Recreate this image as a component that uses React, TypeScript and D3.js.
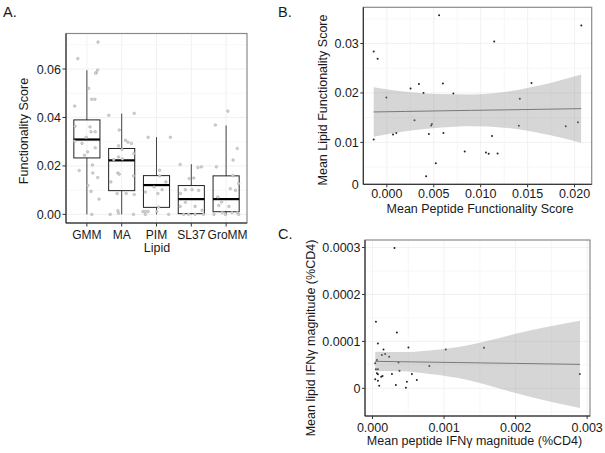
import React from 'react';
import * as d3 from 'd3';

// ---------- Panel A data ----------
const categories = ['GMM', 'MA', 'PIM', 'SL37', 'GroMM'];
const boxLow = [0, 0, 0, 0, 0];
const boxQ1 = [0.0233, 0.0098, 0.0029, 0.0003, 0.0011];
const boxMed = [0.0309, 0.0223, 0.0121, 0.0063, 0.0063];
const boxQ3 = [0.039, 0.0272, 0.016, 0.0119, 0.0159];
const boxHigh = [0.0595, 0.0416, 0.0319, 0.0207, 0.0367];

const gmmScores = [0.0643, 0.0711, 0.0596, 0.0585, 0.0583, 0.052, 0.0475, 0.0475, 0.0447, 0.0361, 0.0364, 0.0341, 0.0341, 0.0318, 0.0302, 0.0293, 0.0275, 0.0258, 0.0244, 0.0181, 0.0204, 0.0171, 0.0152, 0.0119, 0.0095, 0.0063, 0];
const gmmJitter = [-0.26, 0.32, 0.31, 0.27, 0.25, 0.05, 0.14, 0.23, -0.35, 0.09, -0.34, 0.12, 0.24, -0.02, -0.35, -0.14, 0.24, 0.02, -0.07, -0.22, 0.16, 0.17, 0.31, 0.03, 0.12, 0.35, 0.14];
const maScores = [0.0409, 0.0417, 0.0348, 0.0306, 0.0298, 0.0293, 0.0283, 0.0268, 0.0251, 0.0237, 0.0229, 0.0226, 0.0171, 0.0166, 0.0134, 0.0159, 0.0086, 0.0086, 0.0082, 0.0015, 0.0005, 0, 0];
const maJitter = [-0.37, 0.36, -0.07, 0.11, 0.18, 0.28, -0.09, 0.01, 0.35, -0.09, 0.02, -0.23, -0.11, -0.07, -0.31, 0.34, -0.13, 0.13, 0.36, -0.11, -0.09, -0.33, 0.34];
const pimScores = [0.0318, 0.0318, 0.0182, 0.0159, 0.0092, 0.0102, 0.0086, 0.0134, 0.0113, 0.0012, 0.0012, 0.0012, 0.0012, 0, 0, 0.003];
const pimJitter = [-0.24, 0.4, 0.09, 0.09, -0.32, 0.16, 0.04, 0.27, -0.07, -0.39, -0.32, -0.24, 0.01, 0.35, -0.32, 0.06];
const sl37Scores = [0.0206, 0.0193, 0.0196, 0.0148, 0.015, 0.0102, 0.0102, 0.0099, 0.0086, 0.005, 0.0033, 0.0033, 0.0017, 0, 0, 0, 0];
const sl37Jitter = [-0.32, 0.19, 0.29, -0.06, 0.07, -0.17, 0.02, 0.21, -0.31, -0.17, -0.32, 0.11, 0.31, -0.22, -0.08, 0.11, 0.35];
const grommScores = [0.0426, 0.0369, 0.0224, 0.0272, 0.0196, 0.016, 0.0127, 0.0106, 0.0099, 0.0072, 0.0051, 0.0037, 0.0033, 0.0008, 0.0008, 0.0008, 0, 0, 0];
const grommJitter = [0.05, -0.31, 0.2, 0.32, -0.28, 0.19, 0.36, 0.12, 0.27, -0.24, -0.13, -0.21, 0.08, -0.11, 0.17, 0.32, -0.35, -0.02, 0.36];
const aTicks = [0, 0.02, 0.04, 0.06];

// ---------- Panel B data ----------
const bPeptide = [-0.0014, -0.00098, 0.00557, -0.00005, 0.00253, 0.00342, 0.00391, 0.00597, 0.00709, 0.00295, 0.0048, 0.00472, -0.0014, 0.00066, 0.00101, 0.00448, 0.00603, 0.0112, 0.0083, 0.01056, 0.01085, 0.0118, 0.00522, 0.00419, 0.02072, 0.01144, 0.01541, 0.01417, 0.01407, 0.01906, 0.02036];
const bLipid = [0.0284, 0.0269, 0.0357, 0.0191, 0.0209, 0.0218, 0.02, 0.0219, 0.0199, 0.01446, 0.01374, 0.0134, 0.01057, 0.01158, 0.01192, 0.01172, 0.01192, 0.01131, 0.00814, 0.00794, 0.00768, 0.00774, 0.00578, 0.00315, 0.03366, 0.03042, 0.02202, 0.01885, 0.01339, 0.01325, 0.01406];
const bFitX = [-0.0014, 0.002, 0.0055, 0.009, 0.0125, 0.0165, 0.0207];
const bFitY = [0.01616, 0.01626, 0.01637, 0.01648, 0.01658, 0.0167, 0.01683];
const bFitLow = [0.01116, 0.01226, 0.01297, 0.01328, 0.01298, 0.0118, 0.00993];
const bFitHigh = [0.02116, 0.02026, 0.01977, 0.01968, 0.02018, 0.0216, 0.02373];
const bXTicks = [0, 0.005, 0.01, 0.015, 0.02];
const bYTicks = [0.01, 0.02, 0.03];

// ---------- Panel C data ----------
const cPeptide = [0.000307, 0.0000474, 0.00034, 0.0000753, 0.000153, 0.000502, 0.001024, 0.000131, 0.000177, 0.000233, 0.0000614, 0.000363, 0.000795, 0.0000377, 0.0000474, 0.0000753, 0.000377, 0.0000614, 0.0000753, 0.000139, 0.000121, 0.000271, 0.00055, 0.0000377, 0.0000753, 0.000619, 0.00048, 0.0000934, 0.000326, 0.000466, 0.001558, 0.002897];
const cLipid = [0.000299, 0.0001417, 0.0001191, 0.0000957, 0.000083, 0.0000872, 0.000083, 0.0000709, 0.000073, 0.0000672, 0.0000602, 0.0000553, 0.0000474, 0.0000532, 0.0000404, 0.0000404, 0.0000374, 0.0000319, 0.0000298, 0.0000262, 0.0000247, 0.0000304, 0.0000304, 0.0000191, 0.0000162, 0.0000177, 0.000014, 0.0000055, 0.000007, 0.0000013, 0.0000864, 0.0000304];
const cFitX = [0.0000377, 0.0004, 0.0008, 0.0012, 0.0016, 0.002, 0.0024, 0.0029];
const cFitY = [0.0000575, 0.0000567, 0.0000558, 0.0000549, 0.000054, 0.0000531, 0.0000522, 0.0000511];
const cFitLow = [0.000037, 0.0000362, 0.0000308, 0.0000219, 0.000007, -0.0000099, -0.0000252, -0.0000419];
const cFitHigh = [0.000078, 0.0000772, 0.0000808, 0.0000879, 0.000101, 0.0001161, 0.0001296, 0.0001441];
const cXTicks = [0, 0.001, 0.002, 0.003];
const cYTicks = [0, 0.0001, 0.0002, 0.0003];

const FONT = '"Liberation Sans", Arial, Helvetica, sans-serif';
const FS = 12.5;

function expand(lo: number, hi: number): [number, number] {
  const d = (hi - lo) * 0.05;
  return [lo - d, hi + d];
}

function Frame({ x0, x1, y0, y1 }: { x0: number; x1: number; y0: number; y1: number }) {
  return (
    <g>
      <rect x={x0} y={y1} width={x1 - x0} height={y0 - y1} fill="none" stroke="#8a8a8a" strokeWidth={1.2} />
      <line x1={x0} x2={x0} y1={y1} y2={y0} stroke="#222" strokeWidth={1} />
      <line x1={x0} x2={x1} y1={y0} y2={y0} stroke="#222" strokeWidth={1} />
    </g>
  );
}

function GridLines({ xs, ys, x0, x1, y0, y1, color }: { xs: number[]; ys: number[]; x0: number; x1: number; y0: number; y1: number; color: string }) {
  return (
    <g stroke={color} strokeWidth={0.8}>
      {xs.map((v, i) => <line key={'gx' + i} x1={v} x2={v} y1={y1} y2={y0} />)}
      {ys.map((v, i) => <line key={'gy' + i} x1={x0} x2={x1} y1={v} y2={v} />)}
    </g>
  );
}

function mids(ticks: number[], scale: d3.ScaleLinear<number, number>) {
  const step = ticks[1] - ticks[0];
  const [a, b] = scale.domain();
  const out: number[] = [];
  for (let v = ticks[0] - step / 2; v <= b; v += step) if (v >= a) out.push(scale(v));
  return out;
}

function PanelA() {
  const X0 = 66, X1 = 247, Y0 = 223, Y1 = 33.5;
  const all = [gmmScores, maScores, pimScores, sl37Scores, grommScores];
  const jit = [gmmJitter, maJitter, pimJitter, sl37Jitter, grommJitter];
  const flat = all.flat();
  const y = d3.scaleLinear().domain(expand(d3.min(flat)!, d3.max(flat)!)).range([Y0, Y1]);
  const x = d3.scaleLinear().domain([0.4, categories.length + 0.6]).range([X0, X1]);
  const bw = x(1.375) - x(1);
  return (
    <g>
      <GridLines xs={categories.map((_, i) => x(i + 1))} ys={aTicks.map(y)} x0={X0} x1={X1} y0={Y0} y1={Y1} color="#ededed" />
      <GridLines xs={[]} ys={mids(aTicks, y)} x0={X0} x1={X1} y0={Y0} y1={Y1} color="#f5f5f5" />
      {categories.map((c, i) => {
        const cx = x(i + 1);
        return (
          <g key={c}>
            <line x1={cx} x2={cx} y1={y(boxHigh[i])} y2={y(boxQ3[i])} stroke="#444" strokeWidth={1} />
            <line x1={cx} x2={cx} y1={y(boxQ1[i])} y2={y(boxLow[i])} stroke="#444" strokeWidth={1} />
            <rect x={cx - bw} y={y(boxQ3[i])} width={bw * 2} height={y(boxQ1[i]) - y(boxQ3[i])} fill="none" stroke="#222" strokeWidth={1} />
            <line x1={cx - bw} x2={cx + bw} y1={y(boxMed[i])} y2={y(boxMed[i])} stroke="#000" strokeWidth={2.2} />
          </g>
        );
      })}
      {all.map((vals, i) =>
        vals.map((v, j) => (
          <circle key={i + '-' + j} cx={x(i + 1 + jit[i][j])} cy={y(v)} r={1.3} fill="#d4d4d4" stroke="#a3a3a3" strokeWidth={0.5} />
        ))
      )}
      <Frame x0={X0} x1={X1} y0={Y0} y1={Y1} />
      {aTicks.map((t) => (
        <g key={t}>
          <line x1={X0 - 3.5} x2={X0} y1={y(t)} y2={y(t)} stroke="#333" />
          <text x={X0 - 5} y={y(t)} dy="0.36em" textAnchor="end" fontSize={FS}>{t.toFixed(2)}</text>
        </g>
      ))}
      {categories.map((c, i) => (
        <g key={c}>
          <line x1={x(i + 1)} x2={x(i + 1)} y1={Y0} y2={Y0 + 3.5} stroke="#333" />
          <text x={x(i + 1) + (i === 4 ? 1.5 : 0)} y={239} textAnchor="middle" fontSize={12}>{c}</text>
        </g>
      ))}
      <text x={157} y={252} textAnchor="middle" fontSize={FS}>Lipid</text>
      <text transform="translate(27.5,131) rotate(-90)" textAnchor="middle" fontSize={FS}>Functionality Score</text>
      <text x={3} y={17} fontSize={14.5}>A.</text>
    </g>
  );
}

function PanelB() {
  const X0 = 363.3, X1 = 591.7, Y0 = 184.3, Y1 = 7.3;
  const x = d3.scaleLinear().domain(expand(d3.min(bPeptide)!, d3.max(bPeptide)!)).range([X0, X1]);
  const y = d3.scaleLinear().domain(expand(d3.min(bLipid)!, d3.max(bLipid)!)).range([Y0, Y1]);
  const idx = bFitX.map((_, i) => i);
  const area = d3.area<number>().x((i) => x(bFitX[i])).y0((i) => y(bFitLow[i])).y1((i) => y(bFitHigh[i])).curve(d3.curveMonotoneX);
  const line = d3.line<number>().x((i) => x(bFitX[i])).y((i) => y(bFitY[i]));
  return (
    <g>
      <GridLines xs={bXTicks.map(x)} ys={bYTicks.map(y)} x0={X0} x1={X1} y0={Y0} y1={Y1} color="#ededed" />
      <GridLines xs={mids(bXTicks, x)} ys={mids(bYTicks, y)} x0={X0} x1={X1} y0={Y0} y1={Y1} color="#f5f5f5" />
      {bPeptide.map((v, i) => <circle key={i} cx={x(v)} cy={y(bLipid[i])} r={1} fill="#222" />)}
      <path d={area(idx)!} fill="#999" fillOpacity={0.4} />
      <path d={line(idx)!} fill="none" stroke="#7a7a7a" strokeWidth={1} />
      <Frame x0={X0} x1={X1} y0={Y0} y1={Y1} />
      {bYTicks.map((t) => (
        <g key={t}>
          <line x1={X0 - 3} x2={X0} y1={y(t)} y2={y(t)} stroke="#333" />
          <text x={X0 - 4.5} y={y(t)} dy="0.36em" textAnchor="end" fontSize={FS}>{t.toFixed(2)}</text>
        </g>
      ))}
      <text x={X0 - 4.5} y={y(y.domain()[0])} dy="0.36em" textAnchor="end" fontSize={FS}>0</text>
      {bXTicks.map((t) => (
        <g key={t}>
          <line x1={x(t)} x2={x(t)} y1={Y0} y2={Y0 + 3} stroke="#333" />
          <text x={x(t)} y={198.3} textAnchor="middle" fontSize={FS}>{t.toFixed(3)}</text>
        </g>
      ))}
      <text x={480} y={213.3} textAnchor="middle" fontSize={FS}>Mean Peptide Functionality Score</text>
      <text transform="translate(327,100) rotate(-90)" textAnchor="middle" fontSize={FS}>Mean Lipid Functionality Score</text>
      <text x={278} y={16.7} fontSize={14.5}>B.</text>
    </g>
  );
}

function PanelC() {
  const X0 = 365, X1 = 590, Y0 = 416, Y1 = 240;
  const x = d3.scaleLinear().domain(expand(d3.min(cPeptide)!, d3.max(cPeptide)!)).range([X0, X1]);
  const yLo = Math.min(d3.min(cLipid)!, d3.min(cFitLow)!);
  const yHi = Math.max(d3.max(cLipid)!, d3.max(cFitHigh)!);
  const y = d3.scaleLinear().domain(expand(yLo, yHi)).range([Y0, Y1]);
  const idx = cFitX.map((_, i) => i);
  const area = d3.area<number>().x((i) => x(cFitX[i])).y0((i) => y(cFitLow[i])).y1((i) => y(cFitHigh[i])).curve(d3.curveMonotoneX);
  const line = d3.line<number>().x((i) => x(cFitX[i])).y((i) => y(cFitY[i]));
  const fmtY = (t: number) => (t === 0 ? '0' : t.toFixed(4));
  return (
    <g>
      <GridLines xs={cXTicks.map(x)} ys={cYTicks.map(y)} x0={X0} x1={X1} y0={Y0} y1={Y1} color="#ededed" />
      <GridLines xs={mids(cXTicks, x)} ys={mids(cYTicks, y)} x0={X0} x1={X1} y0={Y0} y1={Y1} color="#f5f5f5" />
      {cPeptide.map((v, i) => <circle key={i} cx={x(v)} cy={y(cLipid[i])} r={1} fill="#222" />)}
      <path d={area(idx)!} fill="#999" fillOpacity={0.4} />
      <path d={line(idx)!} fill="none" stroke="#7a7a7a" strokeWidth={1} />
      <Frame x0={X0} x1={X1} y0={Y0} y1={Y1} />
      {cYTicks.map((t) => (
        <g key={t}>
          <line x1={X0 - 3} x2={X0} y1={y(t)} y2={y(t)} stroke="#333" />
          <text x={X0 - 4.5} y={y(t)} dy="0.36em" textAnchor="end" fontSize={FS}>{fmtY(t)}</text>
        </g>
      ))}
      {cXTicks.map((t) => (
        <g key={t}>
          <line x1={x(t)} x2={x(t)} y1={Y0} y2={Y0 + 3} stroke="#333" />
          <text x={x(t)} y={431.5} textAnchor="middle" fontSize={FS}>{t.toFixed(3)}</text>
        </g>
      ))}
      <text x={474.5} y={444.5} textAnchor="middle" fontSize={FS}>Mean peptide IFNγ magnitude (%CD4)</text>
      <text transform="translate(314.5,338) rotate(-90)" textAnchor="middle" fontSize={FS}>Mean lipid IFNγ magnitude (%CD4)</text>
      <text x={278} y={239} fontSize={14.5}>C.</text>
    </g>
  );
}

export default function App() {
  return (
    <svg width={605} height={453} style={{ position: 'absolute', left: 0, top: 0, background: '#fff' }} fontFamily={FONT} fill="#1a1a1a">
      <rect width={605} height={453} fill="#fff" />
      <PanelA />
      <PanelB />
      <PanelC />
    </svg>
  );
}
